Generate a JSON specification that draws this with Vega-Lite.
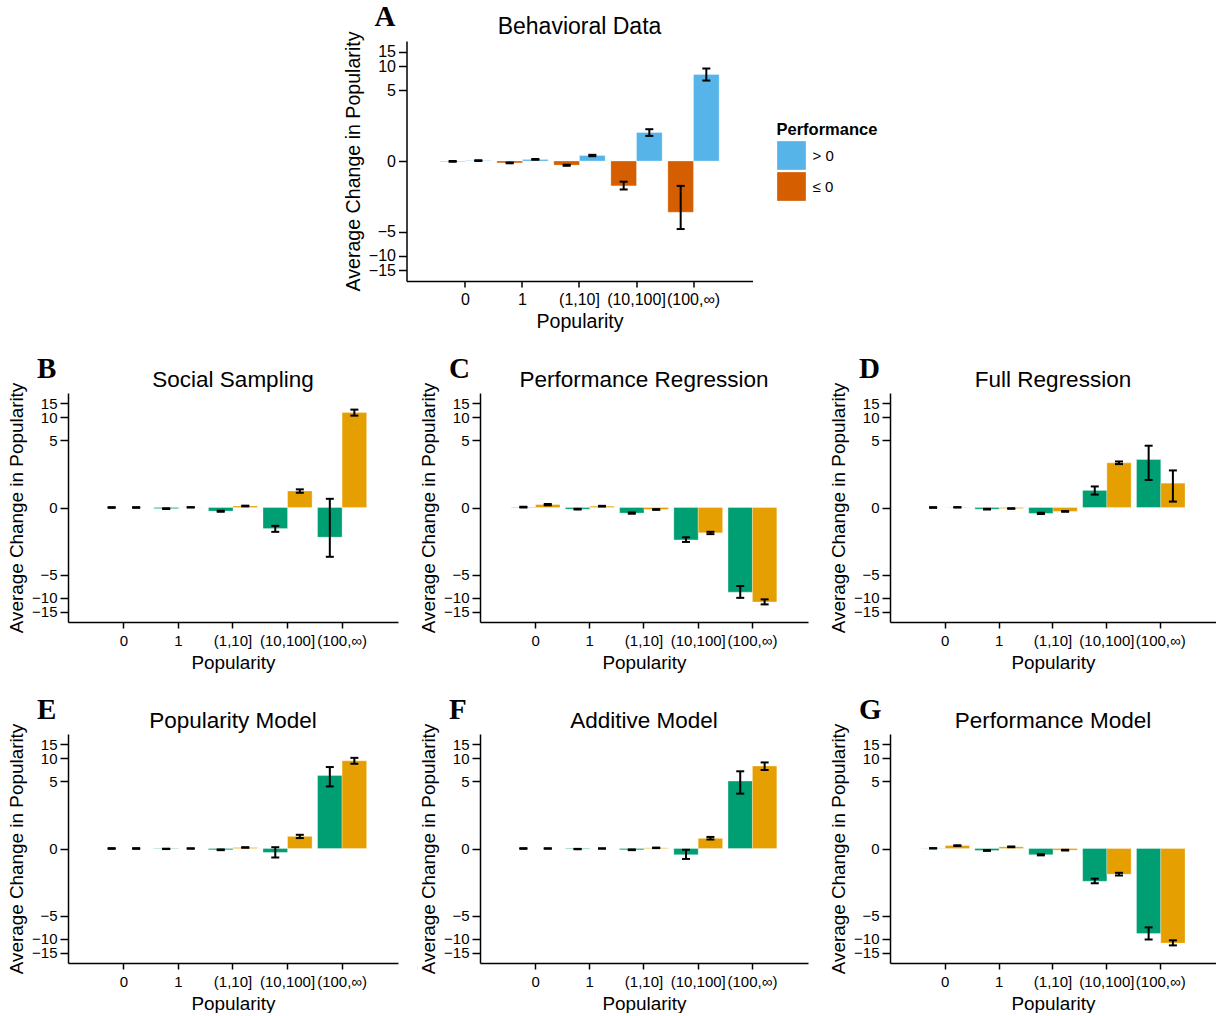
{
  "$schema": "https://vega.github.io/schema/vega-lite/v6.json",
  "padding": {"left": 7, "top": 3, "right": 0, "bottom": 0},
  "data": {"values": [
    {"panel":"A","pop":"0","perf":"≤ 0","mean":-0.01,"lo":-0.02,"hi":0.0},
    {"panel":"A","pop":"0","perf":"> 0","mean":0.01,"lo":0.0,"hi":0.02},
    {"panel":"A","pop":"1","perf":"≤ 0","mean":-0.05,"lo":-0.06,"hi":-0.04},
    {"panel":"A","pop":"1","perf":"> 0","mean":0.04,"lo":0.03,"hi":0.05},
    {"panel":"A","pop":"(1,10]","perf":"≤ 0","mean":-0.11,"lo":-0.13,"hi":-0.1},
    {"panel":"A","pop":"(1,10]","perf":"> 0","mean":0.15,"lo":0.13,"hi":0.17},
    {"panel":"A","pop":"(10,100]","perf":"≤ 0","mean":-0.88,"lo":-1.06,"hi":-0.69},
    {"panel":"A","pop":"(10,100]","perf":"> 0","mean":1.06,"lo":0.89,"hi":1.24},
    {"panel":"A","pop":"(100,∞)","perf":"≤ 0","mean":-2.67,"lo":-4.62,"hi":-0.88},
    {"panel":"A","pop":"(100,∞)","perf":"> 0","mean":8.0,"lo":6.7,"hi":9.45},

    {"panel":"B","pop":"0","perf":"≤ 0","mean":0.0,"lo":-0.01,"hi":0.01},
    {"panel":"B","pop":"0","perf":"> 0","mean":0.0,"lo":-0.01,"hi":0.01},
    {"panel":"B","pop":"1","perf":"≤ 0","mean":-0.03,"lo":-0.04,"hi":-0.02},
    {"panel":"B","pop":"1","perf":"> 0","mean":0.005,"lo":0.0,"hi":0.01},
    {"panel":"B","pop":"(1,10]","perf":"≤ 0","mean":-0.1,"lo":-0.12,"hi":-0.09},
    {"panel":"B","pop":"(1,10]","perf":"> 0","mean":0.04,"lo":0.03,"hi":0.05},
    {"panel":"B","pop":"(10,100]","perf":"≤ 0","mean":-0.75,"lo":-0.91,"hi":-0.63},
    {"panel":"B","pop":"(10,100]","perf":"> 0","mean":0.55,"lo":0.48,"hi":0.62},
    {"panel":"B","pop":"(100,∞)","perf":"≤ 0","mean":-1.2,"lo":-2.71,"hi":0.26},
    {"panel":"B","pop":"(100,∞)","perf":"> 0","mean":11.5,"lo":10.5,"hi":12.5},

    {"panel":"C","pop":"0","perf":"≤ 0","mean":0.01,"lo":0.0,"hi":0.02},
    {"panel":"C","pop":"0","perf":"> 0","mean":0.08,"lo":0.065,"hi":0.095},
    {"panel":"C","pop":"1","perf":"≤ 0","mean":-0.045,"lo":-0.055,"hi":-0.035},
    {"panel":"C","pop":"1","perf":"> 0","mean":0.035,"lo":0.025,"hi":0.045},
    {"panel":"C","pop":"(1,10]","perf":"≤ 0","mean":-0.16,"lo":-0.18,"hi":-0.14},
    {"panel":"C","pop":"(1,10]","perf":"> 0","mean":-0.054,"lo":-0.065,"hi":-0.045},
    {"panel":"C","pop":"(10,100]","perf":"≤ 0","mean":-1.37,"lo":-1.5,"hi":-1.21},
    {"panel":"C","pop":"(10,100]","perf":"> 0","mean":-0.96,"lo":-1.03,"hi":-0.91},
    {"panel":"C","pop":"(100,∞)","perf":"≤ 0","mean":-8.5,"lo":-10.05,"hi":-7.06},
    {"panel":"C","pop":"(100,∞)","perf":"> 0","mean":-11.3,"lo":-12.15,"hi":-10.5},

    {"panel":"D","pop":"0","perf":"≤ 0","mean":0.0,"lo":-0.01,"hi":0.01},
    {"panel":"D","pop":"0","perf":"> 0","mean":0.005,"lo":0.0,"hi":0.01},
    {"panel":"D","pop":"1","perf":"≤ 0","mean":-0.045,"lo":-0.055,"hi":-0.035},
    {"panel":"D","pop":"1","perf":"> 0","mean":-0.026,"lo":-0.035,"hi":-0.02},
    {"panel":"D","pop":"(1,10]","perf":"≤ 0","mean":-0.17,"lo":-0.19,"hi":-0.15},
    {"panel":"D","pop":"(1,10]","perf":"> 0","mean":-0.11,"lo":-0.12,"hi":-0.1},
    {"panel":"D","pop":"(10,100]","perf":"≤ 0","mean":0.575,"lo":0.41,"hi":0.75},
    {"panel":"D","pop":"(10,100]","perf":"> 0","mean":2.28,"lo":2.17,"hi":2.4},
    {"panel":"D","pop":"(100,∞)","perf":"≤ 0","mean":2.58,"lo":1.08,"hi":4.17},
    {"panel":"D","pop":"(100,∞)","perf":"> 0","mean":0.91,"lo":0.17,"hi":1.68},

    {"panel":"E","pop":"0","perf":"≤ 0","mean":0.0,"lo":-0.01,"hi":0.01},
    {"panel":"E","pop":"0","perf":"> 0","mean":0.0,"lo":-0.01,"hi":0.01},
    {"panel":"E","pop":"1","perf":"≤ 0","mean":-0.01,"lo":-0.015,"hi":-0.005},
    {"panel":"E","pop":"1","perf":"> 0","mean":0.0,"lo":-0.005,"hi":0.005},
    {"panel":"E","pop":"(1,10]","perf":"≤ 0","mean":-0.035,"lo":-0.045,"hi":-0.025},
    {"panel":"E","pop":"(1,10]","perf":"> 0","mean":0.026,"lo":0.02,"hi":0.035},
    {"panel":"E","pop":"(10,100]","perf":"≤ 0","mean":-0.11,"lo":-0.27,"hi":0.035},
    {"panel":"E","pop":"(10,100]","perf":"> 0","mean":0.38,"lo":0.32,"hi":0.44},
    {"panel":"E","pop":"(100,∞)","perf":"≤ 0","mean":5.95,"lo":4.21,"hi":7.72},
    {"panel":"E","pop":"(100,∞)","perf":"> 0","mean":9.3,"lo":8.52,"hi":10.14},

    {"panel":"F","pop":"0","perf":"≤ 0","mean":0.0,"lo":-0.01,"hi":0.01},
    {"panel":"F","pop":"0","perf":"> 0","mean":0.0,"lo":-0.005,"hi":0.005},
    {"panel":"F","pop":"1","perf":"≤ 0","mean":-0.015,"lo":-0.02,"hi":-0.01},
    {"panel":"F","pop":"1","perf":"> 0","mean":0.0,"lo":-0.005,"hi":0.005},
    {"panel":"F","pop":"(1,10]","perf":"≤ 0","mean":-0.035,"lo":-0.045,"hi":-0.025},
    {"panel":"F","pop":"(1,10]","perf":"> 0","mean":0.017,"lo":0.01,"hi":0.025},
    {"panel":"F","pop":"(10,100]","perf":"≤ 0","mean":-0.18,"lo":-0.32,"hi":-0.035},
    {"panel":"F","pop":"(10,100]","perf":"> 0","mean":0.31,"lo":0.27,"hi":0.36},
    {"panel":"F","pop":"(100,∞)","perf":"≤ 0","mean":5.0,"lo":3.3,"hi":6.79},
    {"panel":"F","pop":"(100,∞)","perf":"> 0","mean":7.95,"lo":7.06,"hi":8.86},

    {"panel":"G","pop":"0","perf":"≤ 0","mean":0.005,"lo":0.0,"hi":0.01},
    {"panel":"G","pop":"0","perf":"> 0","mean":0.08,"lo":0.07,"hi":0.09},
    {"panel":"G","pop":"1","perf":"≤ 0","mean":-0.054,"lo":-0.065,"hi":-0.045},
    {"panel":"G","pop":"1","perf":"> 0","mean":0.045,"lo":0.035,"hi":0.055},
    {"panel":"G","pop":"(1,10]","perf":"≤ 0","mean":-0.18,"lo":-0.2,"hi":-0.165},
    {"panel":"G","pop":"(1,10]","perf":"> 0","mean":-0.045,"lo":-0.055,"hi":-0.035},
    {"panel":"G","pop":"(10,100]","perf":"≤ 0","mean":-1.39,"lo":-1.52,"hi":-1.23},
    {"panel":"G","pop":"(10,100]","perf":"> 0","mean":-0.98,"lo":-1.05,"hi":-0.91},
    {"panel":"G","pop":"(100,∞)","perf":"≤ 0","mean":-8.6,"lo":-10.24,"hi":-7.14},
    {"panel":"G","pop":"(100,∞)","perf":"> 0","mean":-11.37,"lo":-12.15,"hi":-10.5}
  ]},
  "spacing": 24,
  "center": true,
  "resolve": {"scale": {"color": "independent", "x": "independent", "y": "independent", "xOffset": "independent"}, "legend": {"color": "independent"}},
  "vconcat": [
    {
      "width": 346, "height": 240,
      "title": {"text": "Behavioral Data", "fontSize": 23},
      "layer": [
        {"transform": [{"filter": "datum.panel === 'A'"}], "mark": {"type": "bar"},
         "encoding": {
           "x": {"field": "pop", "type": "nominal", "title": "Popularity", "scale": {"domain": ["0","1","(1,10]","(10,100]","(100,∞)"], "paddingInner": 0.1, "paddingOuter": 0.585}, "axis": {"labelFontSize": 16, "titleFontSize": 19.6, "labelPadding": 4, "titlePadding": 5}},
           "xOffset": {"field": "perf", "type": "nominal", "scale": {"domain": ["≤ 0", "> 0"]}},
           "y": {"field": "mean", "type": "quantitative", "title": "Average Change in Popularity", "scale": {"type": "symlog", "domain": [-20, 20], "nice": false}, "axis": {"values": [-15,-10,-5,0,5,10,15], "tickCount": 20, "labelExpr": "format(datum.value, 'd')", "labelOverlap": false, "labelFontSize": 16, "titleFontSize": 19.6}},
           "y2": {"datum": 0},
           "color": {"field": "perf", "type": "nominal", "scale": {"domain": ["> 0", "≤ 0"], "range": ["#56B4E9", "#D55E00"]},
             "legend": {"title": "Performance", "orient": "none", "legendX": 370, "legendY": 81, "padding": 0, "symbolType": "square", "symbolSize": 841, "symbolStrokeWidth": 0, "titleFontSize": 16.5, "titleFontWeight": "bold", "labelFontSize": 15, "rowPadding": -5, "titlePadding": 2, "labelOffset": 6}}
         }},
        {"transform": [{"filter": "datum.panel === 'A'"}], "mark": {"type": "rule", "strokeWidth": 2, "color": "black"},
         "encoding": {
           "x": {"field": "pop", "type": "nominal", "title": "Popularity"},
           "xOffset": {"field": "perf", "type": "nominal"},
           "y": {"field": "lo", "type": "quantitative", "title": "Average Change in Popularity"},
           "y2": {"field": "hi"}
         }},
        {"transform": [{"filter": "datum.panel === 'A'"}], "mark": {"type": "tick", "thickness": 2, "size": 8, "color": "black", "opacity": 1},
         "encoding": {
           "x": {"field": "pop", "type": "nominal", "title": "Popularity"},
           "xOffset": {"field": "perf", "type": "nominal"},
           "y": {"field": "lo", "type": "quantitative", "title": "Average Change in Popularity"}
         }},
        {"transform": [{"filter": "datum.panel === 'A'"}], "mark": {"type": "tick", "thickness": 2, "size": 8, "color": "black", "opacity": 1},
         "encoding": {
           "x": {"field": "pop", "type": "nominal", "title": "Popularity"},
           "xOffset": {"field": "perf", "type": "nominal"},
           "y": {"field": "hi", "type": "quantitative", "title": "Average Change in Popularity"}
         }},
        {"data": {"values": [{"letter": "A"}]}, "mark": {"type": "text", "font": "Liberation Serif", "fontWeight": "bold", "fontSize": 29, "align": "left", "baseline": "alphabetic", "color": "black"},
         "encoding": {"text": {"field": "letter"}, "x": {"value": -32}, "y": {"value": -15}}}
      ]
    },
    {
      "spacing": 21,
      "resolve": {"scale": {"color": "independent", "x": "independent", "y": "independent", "xOffset": "independent"}, "legend": {"color": "independent"}},
      "hconcat": [
        {
          "width": 330, "height": 229,
          "title": {"text": "Social Sampling"},
          "layer": [
            {"transform": [{"filter": "datum.panel === 'B'"}], "mark": {"type": "bar"},
             "encoding": {
               "x": {"field": "pop", "type": "nominal", "title": "Popularity", "scale": {"domain": ["0","1","(1,10]","(10,100]","(100,∞)"], "paddingInner": 0.1, "paddingOuter": 0.575}},
               "xOffset": {"field": "perf", "type": "nominal", "scale": {"domain": ["≤ 0", "> 0"]}},
               "y": {"field": "mean", "type": "quantitative", "title": "Average Change in Popularity", "scale": {"type": "symlog", "domain": [-20, 20], "nice": false}, "axis": {"values": [-15,-10,-5,0,5,10,15], "tickCount": 20, "labelExpr": "format(datum.value, 'd')", "labelOverlap": false}},
               "y2": {"datum": 0},
               "color": {"field": "perf", "type": "nominal", "scale": {"domain": ["≤ 0", "> 0"], "range": ["#009E73", "#E69F00"]}, "legend": null}
             }},
            {"transform": [{"filter": "datum.panel === 'B'"}], "mark": {"type": "rule", "strokeWidth": 2, "color": "black"},
             "encoding": {"x": {"field": "pop", "type": "nominal", "title": "Popularity"}, "xOffset": {"field": "perf", "type": "nominal"}, "y": {"field": "lo", "type": "quantitative", "title": "Average Change in Popularity"}, "y2": {"field": "hi"}}},
            {"transform": [{"filter": "datum.panel === 'B'"}], "mark": {"type": "tick", "thickness": 2, "size": 8, "color": "black", "opacity": 1},
             "encoding": {"x": {"field": "pop", "type": "nominal", "title": "Popularity"}, "xOffset": {"field": "perf", "type": "nominal"}, "y": {"field": "lo", "type": "quantitative", "title": "Average Change in Popularity"}}},
            {"transform": [{"filter": "datum.panel === 'B'"}], "mark": {"type": "tick", "thickness": 2, "size": 8, "color": "black", "opacity": 1},
             "encoding": {"x": {"field": "pop", "type": "nominal", "title": "Popularity"}, "xOffset": {"field": "perf", "type": "nominal"}, "y": {"field": "hi", "type": "quantitative", "title": "Average Change in Popularity"}}},
            {"data": {"values": [{"letter": "B"}]}, "mark": {"type": "text", "font": "Liberation Serif", "fontWeight": "bold", "fontSize": 29, "align": "left", "baseline": "alphabetic", "color": "black"},
             "encoding": {"text": {"field": "letter"}, "x": {"value": -31}, "y": {"value": -15}}}
          ]
        },
        {
          "width": 328, "height": 229,
          "title": {"text": "Performance Regression"},
          "layer": [
            {"transform": [{"filter": "datum.panel === 'C'"}], "mark": {"type": "bar"},
             "encoding": {
               "x": {"field": "pop", "type": "nominal", "title": "Popularity", "scale": {"domain": ["0","1","(1,10]","(10,100]","(100,∞)"], "paddingInner": 0.1, "paddingOuter": 0.575}},
               "xOffset": {"field": "perf", "type": "nominal", "scale": {"domain": ["≤ 0", "> 0"]}},
               "y": {"field": "mean", "type": "quantitative", "title": "Average Change in Popularity", "scale": {"type": "symlog", "domain": [-20, 20], "nice": false}, "axis": {"values": [-15,-10,-5,0,5,10,15], "tickCount": 20, "labelExpr": "format(datum.value, 'd')", "labelOverlap": false}},
               "y2": {"datum": 0},
               "color": {"field": "perf", "type": "nominal", "scale": {"domain": ["≤ 0", "> 0"], "range": ["#009E73", "#E69F00"]}, "legend": null}
             }},
            {"transform": [{"filter": "datum.panel === 'C'"}], "mark": {"type": "rule", "strokeWidth": 2, "color": "black"},
             "encoding": {"x": {"field": "pop", "type": "nominal", "title": "Popularity"}, "xOffset": {"field": "perf", "type": "nominal"}, "y": {"field": "lo", "type": "quantitative", "title": "Average Change in Popularity"}, "y2": {"field": "hi"}}},
            {"transform": [{"filter": "datum.panel === 'C'"}], "mark": {"type": "tick", "thickness": 2, "size": 8, "color": "black", "opacity": 1},
             "encoding": {"x": {"field": "pop", "type": "nominal", "title": "Popularity"}, "xOffset": {"field": "perf", "type": "nominal"}, "y": {"field": "lo", "type": "quantitative", "title": "Average Change in Popularity"}}},
            {"transform": [{"filter": "datum.panel === 'C'"}], "mark": {"type": "tick", "thickness": 2, "size": 8, "color": "black", "opacity": 1},
             "encoding": {"x": {"field": "pop", "type": "nominal", "title": "Popularity"}, "xOffset": {"field": "perf", "type": "nominal"}, "y": {"field": "hi", "type": "quantitative", "title": "Average Change in Popularity"}}},
            {"data": {"values": [{"letter": "C"}]}, "mark": {"type": "text", "font": "Liberation Serif", "fontWeight": "bold", "fontSize": 29, "align": "left", "baseline": "alphabetic", "color": "black"},
             "encoding": {"text": {"field": "letter"}, "x": {"value": -31}, "y": {"value": -15}}}
          ]
        },
        {
          "width": 326, "height": 229,
          "title": {"text": "Full Regression"},
          "layer": [
            {"transform": [{"filter": "datum.panel === 'D'"}], "mark": {"type": "bar"},
             "encoding": {
               "x": {"field": "pop", "type": "nominal", "title": "Popularity", "scale": {"domain": ["0","1","(1,10]","(10,100]","(100,∞)"], "paddingInner": 0.1, "paddingOuter": 0.575}},
               "xOffset": {"field": "perf", "type": "nominal", "scale": {"domain": ["≤ 0", "> 0"]}},
               "y": {"field": "mean", "type": "quantitative", "title": "Average Change in Popularity", "scale": {"type": "symlog", "domain": [-20, 20], "nice": false}, "axis": {"values": [-15,-10,-5,0,5,10,15], "tickCount": 20, "labelExpr": "format(datum.value, 'd')", "labelOverlap": false}},
               "y2": {"datum": 0},
               "color": {"field": "perf", "type": "nominal", "scale": {"domain": ["≤ 0", "> 0"], "range": ["#009E73", "#E69F00"]}, "legend": null}
             }},
            {"transform": [{"filter": "datum.panel === 'D'"}], "mark": {"type": "rule", "strokeWidth": 2, "color": "black"},
             "encoding": {"x": {"field": "pop", "type": "nominal", "title": "Popularity"}, "xOffset": {"field": "perf", "type": "nominal"}, "y": {"field": "lo", "type": "quantitative", "title": "Average Change in Popularity"}, "y2": {"field": "hi"}}},
            {"transform": [{"filter": "datum.panel === 'D'"}], "mark": {"type": "tick", "thickness": 2, "size": 8, "color": "black", "opacity": 1},
             "encoding": {"x": {"field": "pop", "type": "nominal", "title": "Popularity"}, "xOffset": {"field": "perf", "type": "nominal"}, "y": {"field": "lo", "type": "quantitative", "title": "Average Change in Popularity"}}},
            {"transform": [{"filter": "datum.panel === 'D'"}], "mark": {"type": "tick", "thickness": 2, "size": 8, "color": "black", "opacity": 1},
             "encoding": {"x": {"field": "pop", "type": "nominal", "title": "Popularity"}, "xOffset": {"field": "perf", "type": "nominal"}, "y": {"field": "hi", "type": "quantitative", "title": "Average Change in Popularity"}}},
            {"data": {"values": [{"letter": "D"}]}, "mark": {"type": "text", "font": "Liberation Serif", "fontWeight": "bold", "fontSize": 29, "align": "left", "baseline": "alphabetic", "color": "black"},
             "encoding": {"text": {"field": "letter"}, "x": {"value": -31}, "y": {"value": -15}}}
          ]
        }
      ]
    },
    {
      "spacing": 21,
      "resolve": {"scale": {"color": "independent", "x": "independent", "y": "independent", "xOffset": "independent"}, "legend": {"color": "independent"}},
      "hconcat": [
        {
          "width": 330, "height": 229,
          "title": {"text": "Popularity Model"},
          "layer": [
            {"transform": [{"filter": "datum.panel === 'E'"}], "mark": {"type": "bar"},
             "encoding": {
               "x": {"field": "pop", "type": "nominal", "title": "Popularity", "scale": {"domain": ["0","1","(1,10]","(10,100]","(100,∞)"], "paddingInner": 0.1, "paddingOuter": 0.575}},
               "xOffset": {"field": "perf", "type": "nominal", "scale": {"domain": ["≤ 0", "> 0"]}},
               "y": {"field": "mean", "type": "quantitative", "title": "Average Change in Popularity", "scale": {"type": "symlog", "domain": [-20, 20], "nice": false}, "axis": {"values": [-15,-10,-5,0,5,10,15], "tickCount": 20, "labelExpr": "format(datum.value, 'd')", "labelOverlap": false}},
               "y2": {"datum": 0},
               "color": {"field": "perf", "type": "nominal", "scale": {"domain": ["≤ 0", "> 0"], "range": ["#009E73", "#E69F00"]}, "legend": null}
             }},
            {"transform": [{"filter": "datum.panel === 'E'"}], "mark": {"type": "rule", "strokeWidth": 2, "color": "black"},
             "encoding": {"x": {"field": "pop", "type": "nominal", "title": "Popularity"}, "xOffset": {"field": "perf", "type": "nominal"}, "y": {"field": "lo", "type": "quantitative", "title": "Average Change in Popularity"}, "y2": {"field": "hi"}}},
            {"transform": [{"filter": "datum.panel === 'E'"}], "mark": {"type": "tick", "thickness": 2, "size": 8, "color": "black", "opacity": 1},
             "encoding": {"x": {"field": "pop", "type": "nominal", "title": "Popularity"}, "xOffset": {"field": "perf", "type": "nominal"}, "y": {"field": "lo", "type": "quantitative", "title": "Average Change in Popularity"}}},
            {"transform": [{"filter": "datum.panel === 'E'"}], "mark": {"type": "tick", "thickness": 2, "size": 8, "color": "black", "opacity": 1},
             "encoding": {"x": {"field": "pop", "type": "nominal", "title": "Popularity"}, "xOffset": {"field": "perf", "type": "nominal"}, "y": {"field": "hi", "type": "quantitative", "title": "Average Change in Popularity"}}},
            {"data": {"values": [{"letter": "E"}]}, "mark": {"type": "text", "font": "Liberation Serif", "fontWeight": "bold", "fontSize": 29, "align": "left", "baseline": "alphabetic", "color": "black"},
             "encoding": {"text": {"field": "letter"}, "x": {"value": -31}, "y": {"value": -15}}}
          ]
        },
        {
          "width": 328, "height": 229,
          "title": {"text": "Additive Model"},
          "layer": [
            {"transform": [{"filter": "datum.panel === 'F'"}], "mark": {"type": "bar"},
             "encoding": {
               "x": {"field": "pop", "type": "nominal", "title": "Popularity", "scale": {"domain": ["0","1","(1,10]","(10,100]","(100,∞)"], "paddingInner": 0.1, "paddingOuter": 0.575}},
               "xOffset": {"field": "perf", "type": "nominal", "scale": {"domain": ["≤ 0", "> 0"]}},
               "y": {"field": "mean", "type": "quantitative", "title": "Average Change in Popularity", "scale": {"type": "symlog", "domain": [-20, 20], "nice": false}, "axis": {"values": [-15,-10,-5,0,5,10,15], "tickCount": 20, "labelExpr": "format(datum.value, 'd')", "labelOverlap": false}},
               "y2": {"datum": 0},
               "color": {"field": "perf", "type": "nominal", "scale": {"domain": ["≤ 0", "> 0"], "range": ["#009E73", "#E69F00"]}, "legend": null}
             }},
            {"transform": [{"filter": "datum.panel === 'F'"}], "mark": {"type": "rule", "strokeWidth": 2, "color": "black"},
             "encoding": {"x": {"field": "pop", "type": "nominal", "title": "Popularity"}, "xOffset": {"field": "perf", "type": "nominal"}, "y": {"field": "lo", "type": "quantitative", "title": "Average Change in Popularity"}, "y2": {"field": "hi"}}},
            {"transform": [{"filter": "datum.panel === 'F'"}], "mark": {"type": "tick", "thickness": 2, "size": 8, "color": "black", "opacity": 1},
             "encoding": {"x": {"field": "pop", "type": "nominal", "title": "Popularity"}, "xOffset": {"field": "perf", "type": "nominal"}, "y": {"field": "lo", "type": "quantitative", "title": "Average Change in Popularity"}}},
            {"transform": [{"filter": "datum.panel === 'F'"}], "mark": {"type": "tick", "thickness": 2, "size": 8, "color": "black", "opacity": 1},
             "encoding": {"x": {"field": "pop", "type": "nominal", "title": "Popularity"}, "xOffset": {"field": "perf", "type": "nominal"}, "y": {"field": "hi", "type": "quantitative", "title": "Average Change in Popularity"}}},
            {"data": {"values": [{"letter": "F"}]}, "mark": {"type": "text", "font": "Liberation Serif", "fontWeight": "bold", "fontSize": 29, "align": "left", "baseline": "alphabetic", "color": "black"},
             "encoding": {"text": {"field": "letter"}, "x": {"value": -31}, "y": {"value": -15}}}
          ]
        },
        {
          "width": 326, "height": 229,
          "title": {"text": "Performance Model"},
          "layer": [
            {"transform": [{"filter": "datum.panel === 'G'"}], "mark": {"type": "bar"},
             "encoding": {
               "x": {"field": "pop", "type": "nominal", "title": "Popularity", "scale": {"domain": ["0","1","(1,10]","(10,100]","(100,∞)"], "paddingInner": 0.1, "paddingOuter": 0.575}},
               "xOffset": {"field": "perf", "type": "nominal", "scale": {"domain": ["≤ 0", "> 0"]}},
               "y": {"field": "mean", "type": "quantitative", "title": "Average Change in Popularity", "scale": {"type": "symlog", "domain": [-20, 20], "nice": false}, "axis": {"values": [-15,-10,-5,0,5,10,15], "tickCount": 20, "labelExpr": "format(datum.value, 'd')", "labelOverlap": false}},
               "y2": {"datum": 0},
               "color": {"field": "perf", "type": "nominal", "scale": {"domain": ["≤ 0", "> 0"], "range": ["#009E73", "#E69F00"]}, "legend": null}
             }},
            {"transform": [{"filter": "datum.panel === 'G'"}], "mark": {"type": "rule", "strokeWidth": 2, "color": "black"},
             "encoding": {"x": {"field": "pop", "type": "nominal", "title": "Popularity"}, "xOffset": {"field": "perf", "type": "nominal"}, "y": {"field": "lo", "type": "quantitative", "title": "Average Change in Popularity"}, "y2": {"field": "hi"}}},
            {"transform": [{"filter": "datum.panel === 'G'"}], "mark": {"type": "tick", "thickness": 2, "size": 8, "color": "black", "opacity": 1},
             "encoding": {"x": {"field": "pop", "type": "nominal", "title": "Popularity"}, "xOffset": {"field": "perf", "type": "nominal"}, "y": {"field": "lo", "type": "quantitative", "title": "Average Change in Popularity"}}},
            {"transform": [{"filter": "datum.panel === 'G'"}], "mark": {"type": "tick", "thickness": 2, "size": 8, "color": "black", "opacity": 1},
             "encoding": {"x": {"field": "pop", "type": "nominal", "title": "Popularity"}, "xOffset": {"field": "perf", "type": "nominal"}, "y": {"field": "hi", "type": "quantitative", "title": "Average Change in Popularity"}}},
            {"data": {"values": [{"letter": "G"}]}, "mark": {"type": "text", "font": "Liberation Serif", "fontWeight": "bold", "fontSize": 29, "align": "left", "baseline": "alphabetic", "color": "black"},
             "encoding": {"text": {"field": "letter"}, "x": {"value": -31}, "y": {"value": -15}}}
          ]
        }
      ]
    }
  ],
  "config": {
    "font": "Liberation Sans",
    "view": {"stroke": null},
    "bar": {"stroke": "white", "strokeWidth": 0.6, "strokeOpacity": 0.5},
    "title": {"fontSize": 22.5, "fontWeight": "normal", "font": "Liberation Sans", "color": "black", "anchor": "middle", "frame": "group", "offset": -36},
    "axis": {"grid": false, "domainColor": "black", "domainWidth": 1.5, "tickColor": "black", "tickWidth": 1.5, "labelColor": "black", "titleColor": "black", "labelFont": "Liberation Sans", "titleFont": "Liberation Sans", "labelFontSize": 15, "titleFontSize": 18.9, "titleFontWeight": "normal"},
    "axisY": {"tickSize": 8, "labelPadding": 3, "titlePadding": 5, "labelOverlap": false},
    "axisX": {"tickSize": 6, "labelPadding": 5, "titlePadding": 5, "labelAngle": 0, "labelOverlap": false},
    "legend": {"labelFont": "Liberation Sans", "titleFont": "Liberation Sans", "labelColor": "black", "titleColor": "black"}
  }
}
